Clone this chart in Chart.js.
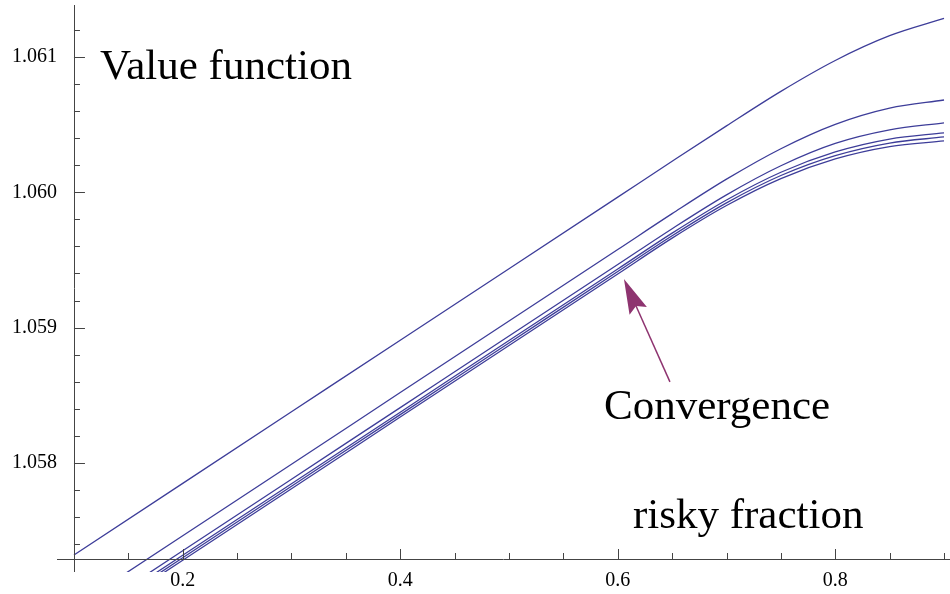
<!DOCTYPE html>
<html><head><meta charset="utf-8">
<script src="https://cdn.jsdelivr.net/npm/chart.js@4.4.1/dist/chart.umd.min.js"></script>
<style>html,body{margin:0;padding:0;background:#fff;}#wrap{width:950px;height:594px;}</style>
</head><body><div id="wrap"><canvas id="c" width="950" height="594"></canvas></div>
<script>
// risky fraction (x) sample points
const riskyFraction = [0.1, 0.2, 0.3, 0.4, 0.5, 0.6, 0.65, 0.7, 0.75, 0.8, 0.85, 0.9];
// value function iterations
const iteration1 = [1.057320, 1.057849, 1.058378, 1.058907, 1.059435, 1.059964, 1.060229, 1.060491, 1.060746, 1.060974, 1.061157, 1.061285];
const iteration2 = [1.056933, 1.057462, 1.057990, 1.058520, 1.059049, 1.059577, 1.059842, 1.060097, 1.060322, 1.060502, 1.060622, 1.060682];
const iteration3 = [1.056822, 1.057351, 1.057880, 1.058409, 1.058938, 1.059466, 1.059731, 1.059981, 1.060196, 1.060361, 1.060461, 1.060513];
const iteration4 = [1.056789, 1.057318, 1.057846, 1.058375, 1.058905, 1.059433, 1.059698, 1.059943, 1.060148, 1.060298, 1.060393, 1.060439];
const iteration5 = [1.056770, 1.057299, 1.057828, 1.058357, 1.058886, 1.059415, 1.059679, 1.059922, 1.060124, 1.060271, 1.060364, 1.060409];
const iteration6 = [1.056752, 1.057281, 1.057809, 1.058339, 1.058868, 1.059396, 1.059661, 1.059902, 1.060101, 1.060246, 1.060337, 1.060380];

// tick values
const xMajorTicks = [0.2, 0.4, 0.6, 0.8];
const xMinorTicks = [0.15, 0.25, 0.3, 0.35, 0.45, 0.5, 0.55, 0.65, 0.7, 0.75, 0.85, 0.9];
const yMajorTicks = [1.058, 1.059, 1.060, 1.061];
const yMinorTicks = [1.0574, 1.0576, 1.0578, 1.0582, 1.0584, 1.0586, 1.0588, 1.0592, 1.0594, 1.0596, 1.0598,
                     1.0602, 1.0604, 1.0606, 1.0608, 1.0612];

// axis ranges and axis origin
const xRange = [0.0844, 0.9055];
const yRange = [1.057194, 1.061384];
const axesOrigin = [0.1, 1.05729];

// annotations (data coordinates)
const labelTexts = ["Value function", "Convergence", "risky fraction"];
const labelX = [0.1239, 0.5874, 0.6140];
const labelY = [1.060835, 1.058325, 1.057520];
const arrowFrom = [0.648, 1.058599];
const arrowTo = [0.6057, 1.059360];

const lineColor = 'rgb(61,61,153)';
const arrowColor = 'rgb(142,52,112)';
const serif = '"Liberation Serif", "Times New Roman", serif';

const seriesList = [iteration1, iteration2, iteration3, iteration4, iteration5, iteration6];

const axesPlugin = {
  id: 'mmaAxes',
  afterDatasetsDraw(chart) {
    const ctx = chart.ctx, xs = chart.scales.x, ys = chart.scales.y, ca = chart.chartArea;
    const ox = xs.getPixelForValue(axesOrigin[0]);
    const oy = ys.getPixelForValue(axesOrigin[1]);
    ctx.save();
    ctx.strokeStyle = '#444';
    ctx.lineWidth = 1;
    ctx.beginPath();
    ctx.moveTo(ca.left, Math.round(oy) + 0.5);
    ctx.lineTo(ca.right, Math.round(oy) + 0.5);
    ctx.moveTo(Math.round(ox) + 0.5, ca.top);
    ctx.lineTo(Math.round(ox) + 0.5, ca.bottom);
    ctx.stroke();
    ctx.beginPath();
    xMajorTicks.forEach(v => { const p = Math.round(xs.getPixelForValue(v)) + 0.5; ctx.moveTo(p, oy); ctx.lineTo(p, oy - 10); });
    xMinorTicks.forEach(v => { const p = Math.round(xs.getPixelForValue(v)) + 0.5; ctx.moveTo(p, oy); ctx.lineTo(p, oy - 6); });
    yMajorTicks.forEach(v => { const p = Math.round(ys.getPixelForValue(v)) + 0.5; ctx.moveTo(ox, p); ctx.lineTo(ox + 11, p); });
    yMinorTicks.forEach(v => { const p = Math.round(ys.getPixelForValue(v)) + 0.5; ctx.moveTo(ox, p); ctx.lineTo(ox + 6, p); });
    ctx.stroke();

    // text annotations
    ctx.fillStyle = '#000';
    ctx.font = '43px ' + serif;
    ctx.textAlign = 'left';
    ctx.textBaseline = 'alphabetic';
    labelTexts.forEach((t, i) => {
      ctx.fillText(t, xs.getPixelForValue(labelX[i]), ys.getPixelForValue(labelY[i]));
    });

    // arrow
    const tx = xs.getPixelForValue(arrowTo[0]), ty = ys.getPixelForValue(arrowTo[1]);
    const fx = xs.getPixelForValue(arrowFrom[0]), fy = ys.getPixelForValue(arrowFrom[1]);
    const ang = Math.atan2(ty - fy, tx - fx);
    const L = 35, W = 9.5;
    const dx = Math.cos(ang), dy = Math.sin(ang);
    const bx = tx - L * dx, by = ty - L * dy;
    ctx.strokeStyle = arrowColor;
    ctx.fillStyle = arrowColor;
    ctx.lineWidth = 1.5;
    ctx.beginPath();
    ctx.moveTo(fx, fy);
    ctx.lineTo(tx - (L * 0.8) * dx, ty - (L * 0.8) * dy);
    ctx.stroke();
    ctx.beginPath();
    ctx.moveTo(tx, ty);
    ctx.lineTo(bx - W * dy, by + W * dx);
    ctx.lineTo(tx - 0.85 * L * dx, ty - 0.85 * L * dy);
    ctx.lineTo(bx + W * dy, by - W * dx);
    ctx.closePath();
    ctx.fill();
    ctx.restore();
  }
};

new Chart(document.getElementById('c'), {
  type: 'line',
  data: {
    datasets: seriesList.map(s => ({
      data: riskyFraction.map((x, i) => ({ x: x, y: s[i] })),
      borderColor: lineColor,
      borderWidth: 1.3,
      pointRadius: 0,
      fill: false,
      cubicInterpolationMode: 'monotone'
    }))
  },
  options: {
    responsive: false,
    animation: false,
    devicePixelRatio: 1,
    layout: { padding: { top: 5, right: 0, bottom: 0, left: 0 } },
    plugins: { legend: { display: false }, tooltip: { enabled: false } },
    scales: {
      x: {
        type: 'linear', min: xRange[0], max: xRange[1],
        grid: { display: false, drawTicks: false },
        border: { display: false },
        afterBuildTicks: s => { s.ticks = xMajorTicks.map(v => ({ value: v })); },
        afterFit: s => { s.height = 22; s.paddingLeft = 0; s.paddingRight = 0; },
        ticks: { autoSkip: false, maxRotation: 0, minRotation: 0, padding: -3, color: '#000',
                 font: { family: serif, size: 20 }, callback: v => Number(v).toFixed(1) }
      },
      y: {
        type: 'linear', min: yRange[0], max: yRange[1],
        grid: { display: false, drawTicks: false },
        border: { display: false },
        afterBuildTicks: s => { s.ticks = yMajorTicks.map(v => ({ value: v })); },
        afterFit: s => { s.width = 57; s.paddingTop = 0; s.paddingBottom = 0; },
        ticks: { autoSkip: false, padding: 0, color: '#000',
                 font: { family: serif, size: 20 }, callback: v => Number(v).toFixed(3) }
      }
    }
  },
  plugins: [axesPlugin]
});
</script>
</body></html>
